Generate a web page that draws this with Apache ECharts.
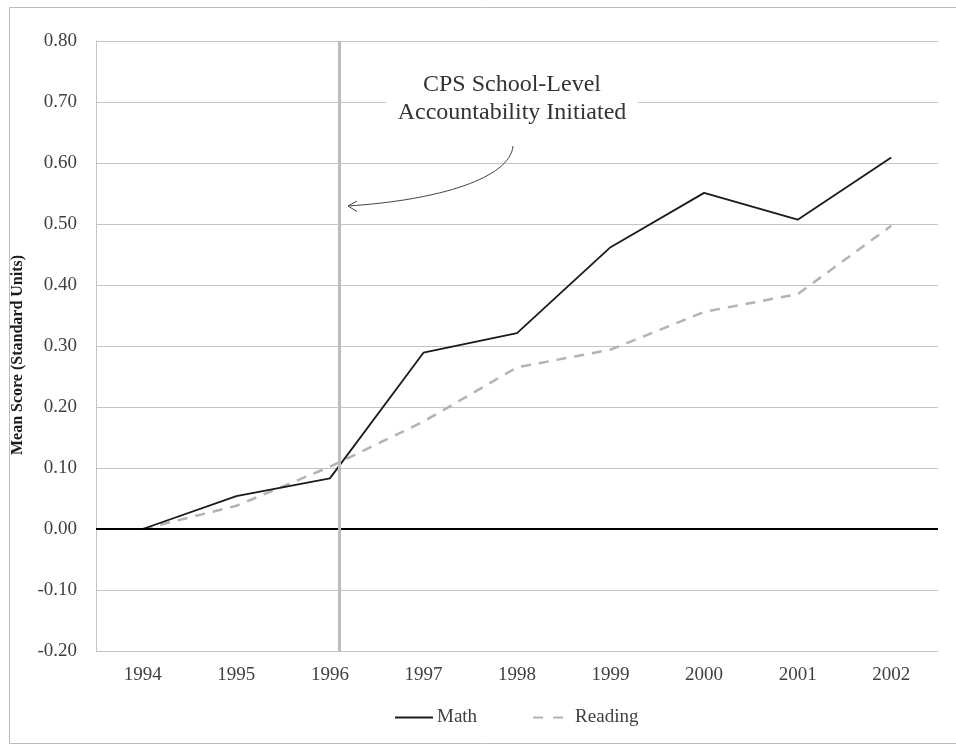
<!DOCTYPE html>
<html>
<head>
<meta charset="utf-8">
<script src="https://cdn.jsdelivr.net/npm/echarts@6/dist/echarts.min.js"></script>
<style>
  html, body { margin: 0; padding: 0; background: #fff; }
  #chart { width: 956px; height: 746px; }
</style>
</head>
<body>
<div id="chart"></div>
<script>
// years on the x axis
const years = ['1994', '1995', '1996', '1997', '1998', '1999', '2000', '2001', '2002']
// mean score, standard units
const mathScores = [0.00, 0.054, 0.083, 0.289, 0.321, 0.462, 0.551, 0.507, 0.609]
const readingScores = [0.00, 0.038, 0.102, 0.176, 0.265, 0.294, 0.356, 0.385, 0.497]
// accountability line sits a little right of the 1996 category
const policyYear = '1996'
const policyOffset = 0.1

const serif = '"Liberation Serif", "Times New Roman", serif'
const gridColor = '#c4c4c4'
const labelColor = '#404040'

const myChart = echarts.init(document.getElementById('chart'))

myChart.setOption({
    animation: false,
    backgroundColor: '#fff',
    textStyle: { fontFamily: serif },
    grid: {
        left: 96,
        right: 18,
        top: 41,
        bottom: 95,
        containLabel: false
    },
    legend: {
        bottom: 14,
        left: 389,
        itemWidth: 38,
        itemHeight: 10,
        itemGap: 55,
        itemStyle: { opacity: 0, borderWidth: 0 },
        textStyle: { fontFamily: serif, fontSize: 19, color: labelColor, padding: [0, 0, 0, -1] },
        data: [
            { name: 'Math' },
            { name: 'Reading', lineStyle: { type: [10, 10] } }
        ]
    },
    xAxis: {
        type: 'category',
        data: years,
        boundaryGap: true,
        axisLine: { show: false },
        axisTick: { show: false },
        axisLabel: { fontFamily: serif, fontSize: 19, color: labelColor, margin: 15 }
    },
    yAxis: {
        type: 'value',
        min: -0.2,
        max: 0.8,
        interval: 0.1,
        axisLine: { show: true, lineStyle: { color: gridColor, width: 1 } },
        axisTick: { show: false },
        splitLine: { lineStyle: { color: gridColor, width: 1 } },
        axisLabel: {
            fontFamily: serif,
            fontSize: 19,
            color: labelColor,
            margin: 19,
            formatter: v => v.toFixed(2)
        }
    },
    graphic: [
        {
            type: 'rect',
            shape: { x: 9.5, y: 7.5, width: 960, height: 736 },
            style: { fill: 'none', stroke: '#bdbdbd', lineWidth: 1 },
            silent: true,
            z: 0
        },
        {
            type: 'text',
            x: 18, y: 355,
            rotation: Math.PI / 2,
            style: {
                text: 'Mean Score (Standard Units)',
                font: 'bold 16px ' + serif,
                fill: '#1a1a1a',
                align: 'center',
                verticalAlign: 'middle'
            }
        },
        {
            type: 'rect',
            shape: { x: 386, y: 70, width: 252, height: 56 },
            style: { fill: '#fff' },
            z: 50
        },
        {
            type: 'text',
            x: 512, y: 99,
            style: {
                text: 'CPS School-Level\nAccountability Initiated',
                font: '24px ' + serif,
                fill: '#333',
                align: 'center',
                verticalAlign: 'middle',
                lineHeight: 28
            },
            z: 51
        },
        {
            type: 'bezierCurve',
            shape: { x1: 513, y1: 146, cpx1: 510, cpy1: 178, cpx2: 440, cpy2: 200, x2: 348, y2: 206 },
            style: { stroke: '#444', lineWidth: 1, fill: 'none' },
            z: 51
        },
        {
            type: 'polyline',
            shape: { points: [[357, 201], [348, 206], [357, 211.5]] },
            style: { stroke: '#444', lineWidth: 1, fill: 'none' },
            z: 51
        }
    ],
    series: [
        {
            name: 'Reading',
            type: 'line',
            data: readingScores,
            symbol: 'none',
            lineStyle: { color: '#b3b3b3', width: 2.5, type: [10, 8] },
            itemStyle: { color: '#b3b3b3' },
            z: 3,
            markLine: {
                silent: true,
                symbol: 'none',
                label: { show: false },
                data: [
                    { yAxis: 0, lineStyle: { color: '#000', width: 2, type: 'solid' } }
                ]
            }
        },
        {
            name: 'Math',
            type: 'line',
            data: mathScores,
            symbol: 'none',
            lineStyle: { color: '#1a1a1a', width: 1.8 },
            itemStyle: { color: '#1a1a1a' },
            z: 4
        }
    ]
})

// vertical marker: position from the axis, shifted a fraction of a band
const x0 = myChart.convertToPixel({ xAxisIndex: 0 }, years[0])
const x1 = myChart.convertToPixel({ xAxisIndex: 0 }, years[1])
const px = Math.round(myChart.convertToPixel({ xAxisIndex: 0 }, policyYear) + (x1 - x0) * policyOffset) + 0.5
const yTop = myChart.convertToPixel({ yAxisIndex: 0 }, 0.8)
const yBot = myChart.convertToPixel({ yAxisIndex: 0 }, -0.2)

myChart.setOption({
    series: [{
        name: 'Reading',
        markLine: {
            data: [
                { yAxis: 0, lineStyle: { color: '#000', width: 2, type: 'solid' } },
                [
                    { x: px, y: yTop, lineStyle: { color: '#bdbdbd', width: 3, type: 'solid' } },
                    { x: px, y: yBot }
                ]
            ]
        }
    }]
})
</script>
</body>
</html>
